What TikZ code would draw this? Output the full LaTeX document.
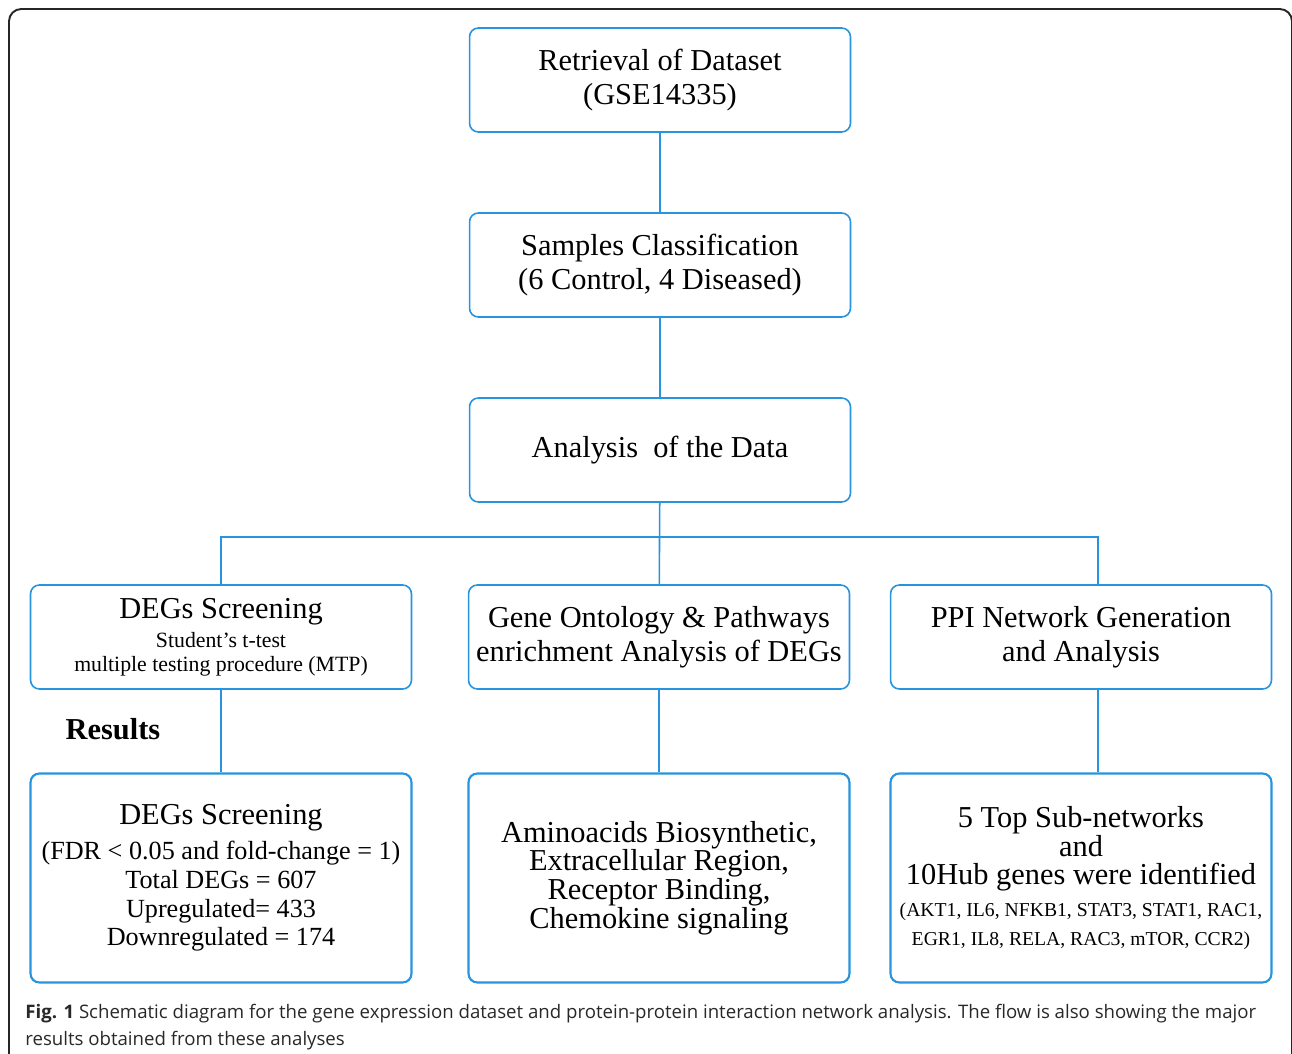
\documentclass[tikz,border=0pt]{standalone}
\usepackage{fontspec}
\setmainfont{Liberation Serif}
\newfontfamily\capfont{Open Sans}
\usepackage{tikz}
\usetikzlibrary{positioning}
\definecolor{boxblue}{RGB}{38,148,222}
\definecolor{capgray}{RGB}{40,40,40}
\tikzset{
	stepbox/.style={draw=boxblue, line width=0.9pt, rounded corners=5pt, align=center,
		minimum width=7.62cm, minimum height=2.08cm, inner sep=2pt,
		font=\fontsize{17.3pt}{19.3pt}\selectfont},
	resbox/.style={stepbox, line width=1.2pt, minimum height=4.18cm,
		font=\fontsize{17.3pt}{16.4pt}\selectfont},
	link/.style={draw=boxblue, line width=0.9pt}
}
\newcommand{\bigtxt}{\fontsize{17.3pt}{19.3pt}\selectfont}
\newcommand{\smalltxt}{\fontsize{12.4pt}{13.6pt}\selectfont}
\newcommand{\genetxt}{\fontsize{11.2pt}{16pt}\selectfont}
\begin{document}
\begin{tikzpicture}[x=0.02cm,y=-0.02cm]
	\useasboundingbox (0,0) rectangle (1292,1054);
	%%Frame
	\draw[line width=1.1pt, rounded corners=7pt, black!85] (9,1080) -- (9,9) -- (1292,9) -- (1292,1080);
	%%Top column
	\node[stepbox] (retr) at (660,80) {Retrieval of Dataset\\(GSE14335)};
	\node[stepbox] (samp) at (660,265) {Samples Classification\\(6 Control, 4 Diseased)};
	\node[stepbox] (anal) at (660,450) {Analysis\ \ of the Data};
	%%Methods
	\node[stepbox, font=\smalltxt] (degs) at (221,637) {{\bigtxt DEGs Screening}\\[2.8pt]Student's t-test\\multiple testing procedure (MTP)};
	\node[stepbox] (gont) at (659,637) {Gene Ontology \& Pathways\\enrichment Analysis of DEGs};
	\node[stepbox] (ppin) at (1081,637) {PPI Network Generation\\and Analysis};
	%%Results
	\node[font=\fontsize{17.3pt}{19pt}\selectfont\bfseries] (reslabel) at (113,729) {Results};
	\node[resbox, font=\fontsize{14.9pt}{16.4pt}\selectfont] (degsres) at (221,878) {{\bigtxt DEGs Screening}\\[3.4pt](FDR < 0.05 and fold-change = 1)\\Total DEGs = 607\\Upregulated= 433\\Downregulated = 174};
	\node[resbox] (gontres) at (659,878) {Aminoacids Biosynthetic,\\Extracellular Region,\\Receptor Binding,\\Chemokine signaling};
	\node[resbox] (ppinres) at (1081,878) {5 Top Sub-networks\\and\\10Hub genes were identified\\[1.7pt]{\genetxt (AKT1, IL6, NFKB1, STAT3, STAT1, RAC1,}\\{\genetxt EGR1, IL8, RELA, RAC3, mTOR, CCR2)}};
	%%Connectors
	\coordinate (split) at (660,537);
	\draw[link] (retr) -- (samp);
	\draw[link] (samp) -- (anal);
	\draw[link] (anal) -- (gont);
	\draw[link] (degs.north) |- (split) -| ([xshift=0.34cm]ppin.north);
	\draw[link] (degs) -- (degsres);
	\draw[link] (gont) -- (gontres);
	\draw[link] ([xshift=0.34cm]ppin.south) -- ([xshift=0.34cm]ppinres.north);
	%%Caption
	\node[anchor=north west, align=left, inner sep=0pt, text=capgray,
		font=\capfont\fontsize{10.6pt}{15.3pt}\selectfont] (caption) at (25,1004)
		{\textbf{Fig. 1} Schematic diagram for the gene expression dataset and protein-protein interaction network analysis. The flow is also showing the major\\results obtained from these analyses};
\end{tikzpicture}
\end{document}
